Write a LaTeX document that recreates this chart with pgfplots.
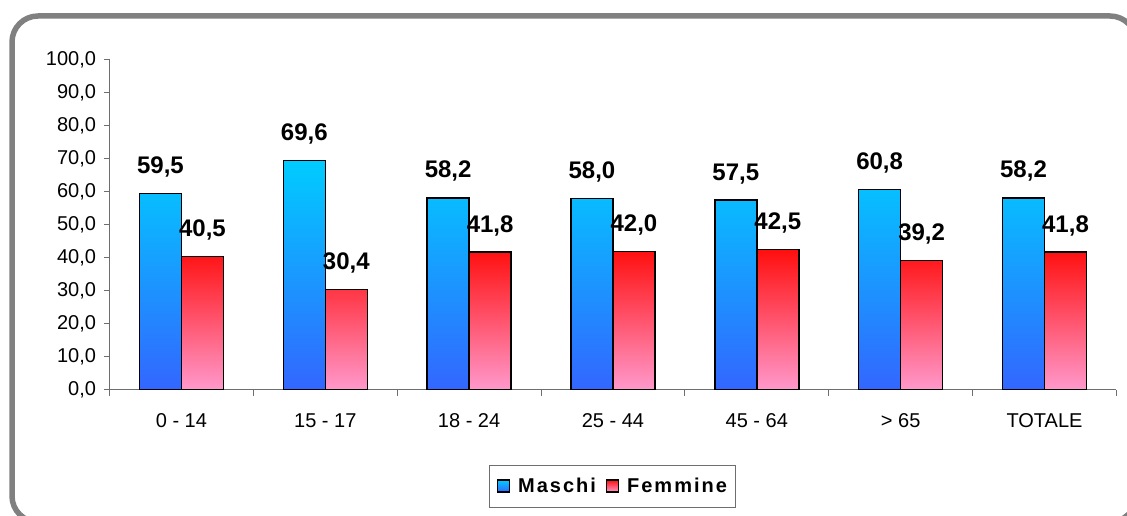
\documentclass[border=0pt]{standalone}
\usepackage{fontspec}
\setmainfont{Liberation Sans}
\newfontfamily\legfont[LetterSpace=10]{Liberation Sans}
\usepackage{pgfplots}
\pgfplotsset{compat=1.18}
\definecolor{mtop}{RGB}{0,204,255}
\definecolor{mbot}{RGB}{51,102,255}
\definecolor{ftop}{RGB}{255,15,15}
\definecolor{fbot}{RGB}{255,153,204}
\definecolor{bordergray}{RGB}{128,128,128}
\definecolor{axisgray}{RGB}{110,110,110}
\begin{document}
\begin{tikzpicture}[x=1pt,y=1pt]
\useasboundingbox (0,0) rectangle (1127,516);
\draw[line width=5.5pt, color=bordergray, rounded corners=26pt] (12,500) rectangle (1136,-6);
\begin{axis}[
  at={(109.5pt,126pt)}, anchor=south west,
  scale only axis, width=1007pt, height=330pt,
  xmin=-0.5, xmax=6.5, ymin=0, ymax=100,
  axis lines*=left,
  axis line style={draw=axisgray, line width=1pt},
  ytick={0,10,...,100},
  xtick={0,...,6},
  xticklabels={0 - 14, 15 - 17, 18 - 24, 25 - 44, 45 - 64, {> 65}, TOTALE},
  minor xtick={-0.5,0.5,...,6.5},
  tick align=outside,
  major tick length=5pt, minor tick length=6pt,
  xtick style={draw=none},
  minor x tick style={draw=axisgray, line width=1pt},
  y tick style={draw=axisgray, line width=1pt},
  /pgf/number format/.cd, fixed, fixed zerofill, precision=1, use comma, assume math mode=true,
  /pgfplots/.cd,
  ticklabel style={font=\fontsize{20}{24}\selectfont},
  xticklabel style={yshift=-15pt},
  yticklabel style={xshift=-5pt},
  ybar=0pt, bar width=42pt,
  nodes near coords,
  every node near coord/.append style={font=\bfseries\fontsize{24}{28}\selectfont, anchor=base, inner sep=0pt, yshift=20pt, text=black},
  legend style={at={(0.5,-0.291)}, anchor=center, draw=axisgray, line width=1pt,
    inner xsep=7pt, inner ysep=11pt,
    font=\legfont\bfseries\fontsize{20}{24}\selectfont,
    /tikz/every odd column/.append style={column sep=6pt},
    /tikz/every even column/.append style={column sep=8pt}},
  legend columns=2,
  legend image code/.code={\draw[#1, line width=1.2pt] (0pt,-6pt) rectangle (12pt,6pt);},
]
\addplot[draw=black, line width=1.5pt, top color=mtop, bottom color=mbot] coordinates {(0,59.5) (1,69.6) (2,58.2) (3,58.0) (4,57.5) (5,60.8) (6,58.2)};
\addplot[draw=black, line width=1.5pt, top color=ftop, bottom color=fbot] coordinates {(0,40.5) (1,30.4) (2,41.8) (3,42.0) (4,42.5) (5,39.2) (6,41.8)};
\legend{Maschi, Femmine}
\end{axis}
\end{tikzpicture}
\end{document}
